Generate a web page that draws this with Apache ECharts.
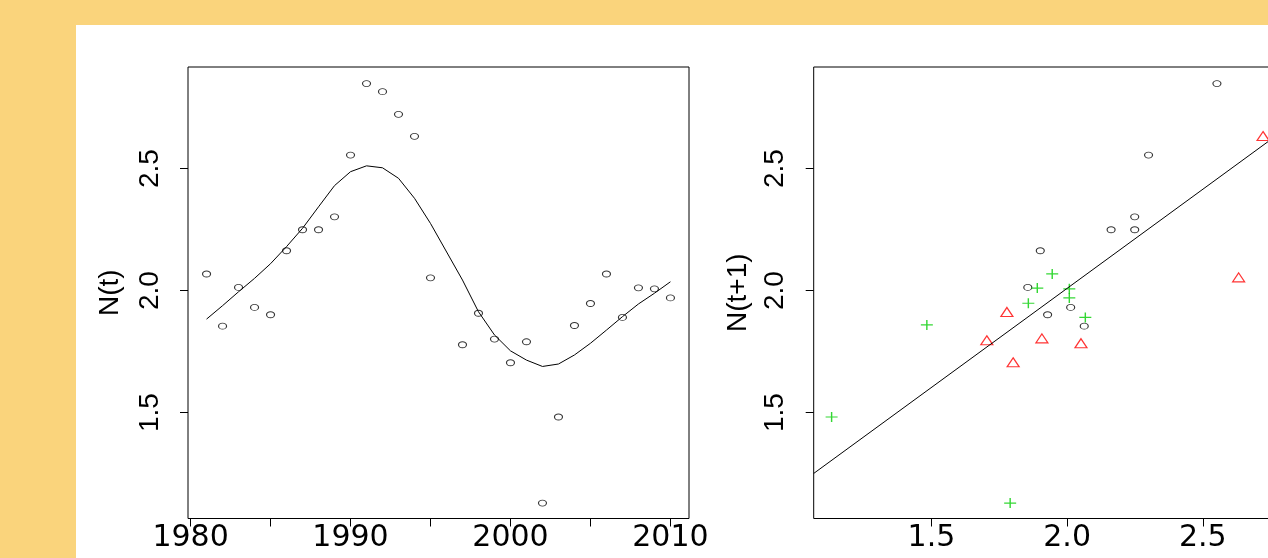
<!DOCTYPE html>
<html>
<head>
<meta charset="utf-8">
<script src="https://cdn.jsdelivr.net/npm/echarts@6/dist/echarts.min.js"></script>
<style>
  html, body { margin: 0; padding: 0; background: #fad47c; }
  #panel { position: absolute; left: 76px; top: 25px; right: 0; bottom: 0; background: #fff; }
  #chart { position: absolute; left: 0; top: 0; width: 1268px; height: 558px; }
</style>
</head>
<body>
<div id="panel"></div>
<div id="chart"></div>
<script>
// yearly counts N(t) (1996 missing in the record)
var years = [1981, 1982, 1983, 1984, 1985, 1986, 1987, 1988, 1989, 1990,
  1991, 1992, 1993, 1994, 1995, 1997, 1998, 1999, 2000, 2001,
  2002, 2003, 2004, 2005, 2006, 2007, 2008, 2009, 2010]
var nValues = [2.068, 1.854, 2.013, 1.931, 1.901, 2.163, 2.249, 2.249, 2.302, 2.555,
  2.848, 2.815, 2.722, 2.632, 2.052, 1.778, 1.907, 1.801, 1.704, 1.790,
  1.129, 1.482, 1.857, 1.947, 2.068, 1.890, 2.011, 2.007, 1.970]
// smoothed trend, one vertex per year
var smoothValues = [1.883, 1.938, 1.995, 2.05, 2.11, 2.18, 2.255, 2.343, 2.43, 2.487,
  2.511, 2.503, 2.46, 2.378, 2.275, 2.043, 1.913, 1.818, 1.753, 1.715,
  1.689, 1.699, 1.736, 1.784, 1.838, 1.893, 1.945, 1.989, 2.036]

// lag plot N(t) -> N(t+1), three periods
var blackPts = [[2.063, 1.854], [1.855, 2.013], [2.013, 1.931], [1.928, 1.901], [1.901, 2.163],
  [2.162, 2.249], [2.249, 2.249], [2.249, 2.302], [2.300, 2.555], [2.552, 2.848]]
var redPts = [[2.848, 2.815], [2.815, 2.722], [2.722, 2.633], [2.632, 2.054], [2.051, 1.784],
  [1.778, 1.912], [1.907, 1.804], [1.801, 1.706], [1.704, 1.796]]
var greenPts = [[1.790, 1.129], [1.132, 1.482], [1.483, 1.859], [1.857, 1.948], [1.945, 2.068],
  [2.067, 1.890], [1.890, 2.010], [2.008, 2.007], [2.008, 1.970]]
var fitIntercept = 0.385
var fitSlope = 0.812

var yearTicks = [1980, 1985, 1990, 1995, 2000, 2005, 2010]
var yearLabels = [1980, 1990, 2000, 2010]
var nTicks = [1.5, 2.0, 2.5]

var nMin = 1.066, nMax = 2.916
var labelFont = 'Liberation Sans'
var xLabelFont = 'DejaVu Sans'

var series1 = years.map(function (y, i) { return [y, nValues[i]] })
var smooth1 = years.map(function (y, i) { return [y, smoothValues[i]] })
var fitLine = [[nMin, fitIntercept + fitSlope * nMin], [nMax, fitIntercept + fitSlope * nMax]]

var tick = { show: true, length: 8, lineStyle: { color: '#000', width: 1 } }

function yAxisCfg(gridIndex, name, gap) {
  return {
    type: 'value', gridIndex: gridIndex, min: nMin, max: nMax,
    name: name, nameLocation: 'middle', nameGap: gap,
    nameTextStyle: { fontFamily: labelFont, fontSize: 28, color: '#000' },
    splitLine: { show: false }, axisLine: { show: false },
    axisTick: Object.assign({ customValues: nTicks }, tick),
    axisLabel: {
      customValues: nTicks, rotate: 90, margin: 24,
      fontFamily: labelFont, fontSize: 28, color: '#000',
      formatter: function (v) { return v.toFixed(1) }
    }
  }
}

var chart = echarts.init(document.getElementById('chart'))
chart.setOption({
  animation: false,
  grid: [
    { left: 188, top: 67, width: 501, height: 451.5, show: true, borderColor: '#000', borderWidth: 1, outerBoundsMode: 'none' },
    { left: 813.7, top: 67, width: 502, height: 451.5, show: true, borderColor: '#000', borderWidth: 1, outerBoundsMode: 'none' }
  ],
  xAxis: [
    {
      type: 'value', gridIndex: 0, min: 1979.84, max: 2011.16,
      splitLine: { show: false }, axisLine: { show: false },
      axisTick: Object.assign({ customValues: yearTicks }, tick),
      axisLabel: {
        customValues: yearLabels, margin: 5, fontFamily: xLabelFont, fontSize: 30, color: '#000',
        formatter: function (v) { return String(v) }
      }
    },
    {
      type: 'value', gridIndex: 1, min: nMin, max: nMax,
      splitLine: { show: false }, axisLine: { show: false },
      axisTick: Object.assign({ customValues: nTicks }, tick),
      axisLabel: {
        customValues: nTicks, margin: 5, fontFamily: xLabelFont, fontSize: 30, color: '#000',
        formatter: function (v) { return v.toFixed(1) }
      }
    }
  ],
  yAxis: [yAxisCfg(0, 'N(t)', 64), yAxisCfg(1, 'N(t+1)', 61)],
  series: [
    {
      type: 'line', xAxisIndex: 0, yAxisIndex: 0, data: smooth1, showSymbol: false,
      lineStyle: { color: '#000', width: 1 }
    },
    {
      type: 'scatter', xAxisIndex: 0, yAxisIndex: 0, data: series1,
      symbol: 'circle', symbolSize: [8, 6],
      itemStyle: { color: 'transparent', borderColor: '#000', borderWidth: 1 }
    },
    {
      type: 'line', xAxisIndex: 1, yAxisIndex: 1, data: fitLine, showSymbol: false,
      lineStyle: { color: '#000', width: 1 }
    },
    {
      type: 'scatter', xAxisIndex: 1, yAxisIndex: 1, data: blackPts,
      symbol: 'circle', symbolSize: [8, 6],
      itemStyle: { color: 'transparent', borderColor: '#000', borderWidth: 1 }
    },
    {
      type: 'scatter', xAxisIndex: 1, yAxisIndex: 1, data: redPts,
      symbol: 'triangle', symbolSize: [12, 9],
      itemStyle: { color: 'transparent', borderColor: '#ff0000', borderWidth: 1.2 }
    },
    {
      type: 'scatter', xAxisIndex: 1, yAxisIndex: 1, data: greenPts,
      symbol: 'path://M0,5 L10,5 M5,0 L5,10', symbolSize: [12, 10],
      itemStyle: { color: 'transparent', borderColor: '#00cd00', borderWidth: 1.3 }
    }
  ]
})
</script>
</body>
</html>
